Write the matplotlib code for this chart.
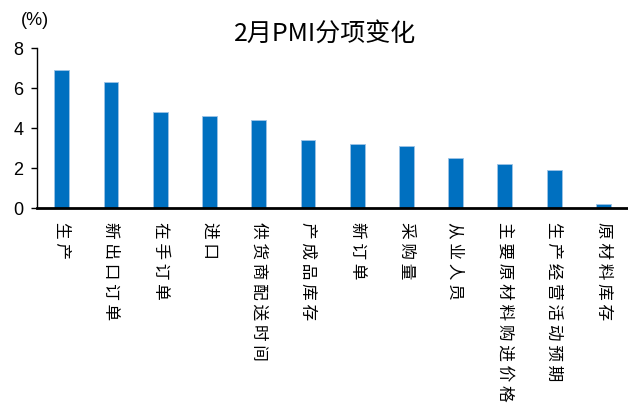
import matplotlib as mpl
import matplotlib.pyplot as plt

mpl.rcParams.update({
    "font.family": ["Noto Sans CJK SC", "DejaVu Sans"],
    "axes.spines.top": False, "axes.spines.right": False,
})

categories = ["生产", "新出口订单", "在手订单", "进口", "供货商配送时间", "产成品库存",
              "新订单", "采购量", "从业人员", "主要原材料购进价格", "生产经营活动预期", "原材料库存"]
values = [6.9, 6.3, 4.8, 4.6, 4.4, 3.4, 3.2, 3.1, 2.5, 2.2, 1.9, 0.2]
yticks = [0, 2, 4, 6, 8]

BAR_COLOR = "#0070C0"

fig = plt.figure(figsize=(6.28, 4.12), dpi=100)
ax = fig.add_axes([0.059, 0.495, 0.941, 0.388])

x = range(len(categories))
ax.bar(x, values, width=0.3, color=BAR_COLOR, edgecolor="#9DC3E6", linewidth=0.6)

ax.set_xlim(-0.5, len(categories) - 0.5)
ax.set_ylim(0, 8)
ax.set_yticks(yticks)
ax.set_yticklabels([str(t) for t in yticks], family="Liberation Sans", fontsize=13)
ax.tick_params(axis="y", direction="out", length=4, width=1, pad=6)
ax.spines["left"].set_linewidth(1)
ax.spines["bottom"].set_linewidth(2)
ax.set_xticks(list(x))
# spread the characters a little, like the original's letter spacing
ax.set_xticklabels([" ".join(c) for c in categories], rotation=-90, ha="center", va="top",
                   fontsize=12)
ax.tick_params(axis="x", length=0, pad=10)

fig.text(0.518, 0.918, "2月PMI分项变化", ha="center", va="center", fontsize=18)
fig.text(0.056, 0.95, "(%)", ha="center", va="center", fontsize=13, family="Liberation Sans")

fig.savefig("out.png", dpi=100)
